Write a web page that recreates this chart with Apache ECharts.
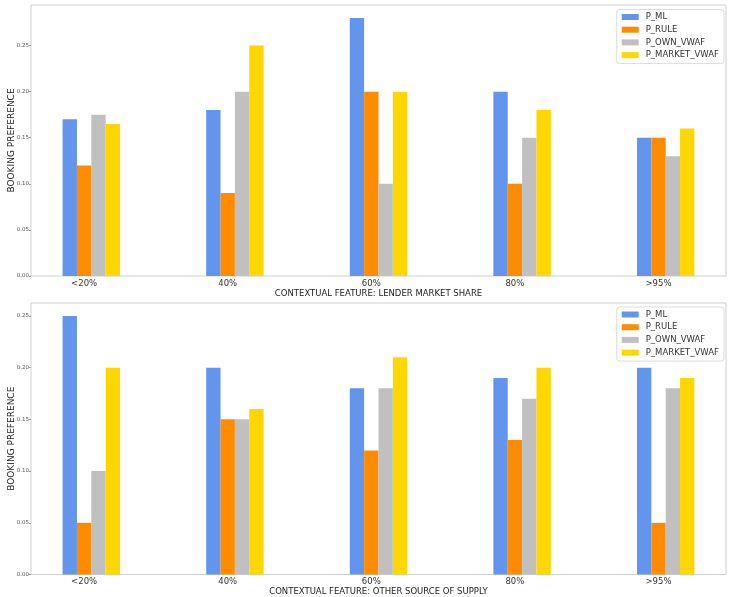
<!DOCTYPE html>
<html>
<head>
<meta charset="utf-8">
<script src="https://cdn.jsdelivr.net/npm/echarts@6/dist/echarts.min.js"></script>
<style>
html,body{margin:0;padding:0;background:#fff;}
#chart{width:729px;height:597px;}
</style>
</head>
<body>
<div id="chart"></div>
<script>
const categories = ['<20%', '40%', '60%', '80%', '>95%'];
const seriesNames = ['P_ML', 'P_RULE', 'P_OWN_VWAF', 'P_MARKET_VWAF'];
const seriesColors = ['#6495ED', '#FF8C00', '#C0C0C0', '#FFD700'];

// Top chart: lender market share
const topML = [0.17, 0.18, 0.28, 0.20, 0.15];
const topRULE = [0.12, 0.09, 0.20, 0.10, 0.15];
const topOWN = [0.175, 0.20, 0.10, 0.15, 0.13];
const topMARKET = [0.165, 0.25, 0.20, 0.18, 0.16];

// Bottom chart: other source of supply
const botML = [0.25, 0.20, 0.18, 0.19, 0.20];
const botRULE = [0.05, 0.15, 0.12, 0.13, 0.05];
const botOWN = [0.10, 0.15, 0.18, 0.17, 0.18];
const botMARKET = [0.20, 0.16, 0.21, 0.20, 0.19];

const yTicks = [0, 0.05, 0.10, 0.15, 0.20, 0.25];
const topXTitle = 'CONTEXTUAL FEATURE: LENDER MARKET SHARE';
const botXTitle = 'CONTEXTUAL FEATURE: OTHER SOURCE OF SUPPLY';
const yTitle = 'BOOKING PREFERENCE';

const FONT = 'DejaVu Sans';
const chart = echarts.init(document.getElementById('chart'), null, {renderer: 'canvas'});
const catIdx = categories.map((_, i) => i);

function xAxisCfg(gridIndex, title) {
  return {
    type: 'value', gridIndex, min: -0.42, max: 4.42, interval: 0.02,
    axisLine: {show: false, onZero: false}, axisTick: {show: false}, splitLine: {show: false},
    axisLabel: {
      fontFamily: FONT, fontSize: 8.5, color: '#333', margin: 3,
      padding: [0, 14.4, 0, 0], customValues: catIdx,
      formatter: v => (Math.abs(v - Math.round(v)) < 1e-6 && categories[Math.round(v)] !== undefined) ? categories[Math.round(v)] : ''
    },
    name: title, nameLocation: 'middle', nameGap: 9,
    nameTextStyle: {fontFamily: FONT, fontSize: 8.5, color: '#222'}
  };
}
function yAxisCfg(gridIndex, max) {
  return {
    type: 'value', gridIndex, min: 0, max, interval: 0.05,
    axisLine: {show: false, onZero: false},
    axisTick: {show: true, length: 2, lineStyle: {color: '#999'}, customValues: yTicks},
    splitLine: {show: false},
    axisLabel: {
      fontFamily: FONT, fontSize: 5.5, color: '#555', margin: 2, customValues: yTicks,
      formatter: v => v.toFixed(2)
    },
    name: yTitle, nameLocation: 'middle', nameGap: 15, nameRotate: 90, nameMoveOverlap: false,
    nameTextStyle: {fontFamily: FONT, fontSize: 9, color: '#222'}
  };
}
function legendCfg(top) {
  return {
    orient: 'vertical', right: 5, top,
    data: seriesNames, icon: 'rect', itemWidth: 17, itemHeight: 6, itemGap: 3.7,
    textStyle: {fontFamily: FONT, fontSize: 8.5, lineHeight: 9, color: '#333', padding: [0, 0, 0, 2]},
    padding: [3, 5, 4, 5], borderColor: '#dcdcdc', borderWidth: 1, borderRadius: 3,
    backgroundColor: 'rgba(255,255,255,0.85)', selectedMode: false
  };
}
function barSeries(gi, name, color, vals) {
  return {
    type: 'bar', name, xAxisIndex: gi, yAxisIndex: gi,
    data: vals.map((v, i) => [i, v]),
    barWidth: '10%', barGap: '0%',
    itemStyle: {color}, animation: false
  };
}

const topVals = [topML, topRULE, topOWN, topMARKET];
const botVals = [botML, botRULE, botOWN, botMARKET];

chart.setOption({
  animation: false,
  backgroundColor: '#fff',
  grid: [
    {left: 31, right: 3, top: 5, height: 271, show: true, borderColor: '#cfcfcf', borderWidth: 1, backgroundColor: 'transparent', containLabel: false, outerBoundsMode: 'none'},
    {left: 31, right: 3, top: 303, height: 271.5, show: true, borderColor: '#cfcfcf', borderWidth: 1, backgroundColor: 'transparent', containLabel: false, outerBoundsMode: 'none'}
  ],
  xAxis: [xAxisCfg(0, topXTitle), xAxisCfg(1, botXTitle)],
  yAxis: [yAxisCfg(0, 0.294), yAxisCfg(1, 0.2625)],
  legend: [legendCfg(9.5), legendCfg(307)],
  series: [
    ...seriesNames.map((n, k) => barSeries(0, n, seriesColors[k], topVals[k])),
    ...seriesNames.map((n, k) => barSeries(1, n, seriesColors[k], botVals[k]))
  ]
});
</script>
</body>
</html>
